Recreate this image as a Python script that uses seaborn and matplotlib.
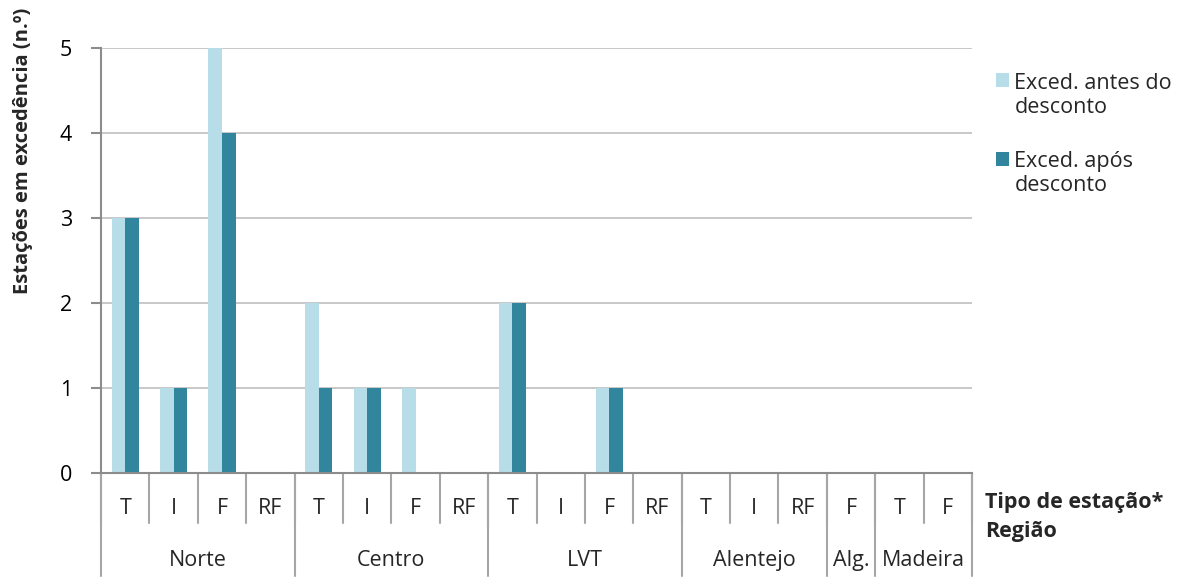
import matplotlib
matplotlib.use("Agg")
import matplotlib.pyplot as plt
import matplotlib.transforms as mtransforms
from matplotlib.patches import Patch, Rectangle
from matplotlib.legend_handler import HandlerPatch
import pandas as pd
import seaborn as sns

# Station types grouped by region
regions = ["Norte", "Centro", "LVT", "Alentejo", "Alg.", "Madeira"]
region_types = [
    ["T", "I", "F", "RF"],
    ["T", "I", "F", "RF"],
    ["T", "I", "F", "RF"],
    ["T", "I", "RF"],
    ["F"],
    ["T", "F"],
]
antes = [3, 1, 5, 0, 2, 1, 1, 0, 2, 0, 1, 0, 0, 0, 0, 0, 0, 0]
apos = [3, 1, 4, 0, 1, 1, 0, 0, 2, 0, 1, 0, 0, 0, 0, 0, 0, 0]
series_names = ["Exced. antes do\ndesconto", "Exced. após\ndesconto"]
colors = ["#B7DDE8", "#31859C"]

keys, type_labels = [], []
for reg, types in zip(regions, region_types):
    for t in types:
        keys.append(f"{reg}|{t}")
        type_labels.append(t)

df = pd.DataFrame({
    "key": keys * 2,
    "value": antes + apos,
    "serie": [series_names[0]] * len(keys) + [series_names[1]] * len(keys),
})

sns.set_theme(style="white")
plt.rcParams["font.family"] = ["Open Sans", "DejaVu Sans"]
FS = 15.5

fig = plt.figure(figsize=(11.8, 5.79), dpi=100)
W, H = 1180, 579
ax = fig.add_axes([101 / W, 1 - 473 / H, (972 - 101) / W, (473 - 48) / H])

sns.barplot(data=df, x="key", y="value", hue="serie", order=keys,
            hue_order=series_names, palette=colors, width=0.56, gap=0,
            saturation=1, errorbar=None, ax=ax, legend=False, linewidth=0)

n = len(keys)
ax.set_xlim(-0.5, n - 0.5)
ax.set_ylim(0, 5)
ax.set_yticks(range(6))
ax.set_yticklabels([str(i) for i in range(6)], fontsize=FS)
ax.yaxis.grid(True, color="#BFBFBF", linewidth=1.2)
ax.set_axisbelow(True)
for s in ["top", "right"]:
    ax.spines[s].set_visible(False)
for s in ["left", "bottom"]:
    ax.spines[s].set_color("#8C8C8C")
    ax.spines[s].set_linewidth(1.5)
ax.tick_params(axis="y", left=True, length=7, width=1.5, color="#8C8C8C",
               pad=14, labelcolor="black")
ax.set_xticks([])
ax.set_xlabel("")
ax.set_ylabel("")
fig.text(23 / W, 1 - 151 / H, "Estações em excedência (n.º)", fontsize=14.5,
         fontweight="bold", rotation=90, ha="center", va="center")

trans = mtransforms.blended_transform_factory(ax.transData, ax.transAxes)
line_kw = dict(color="#A6A6A6", linewidth=1.5, transform=trans, clip_on=False)

# Type-level separators and labels
for i in range(n + 1):
    ax.plot([i - 0.5, i - 0.5], [0, -0.118], **line_kw)
for i, t in enumerate(type_labels):
    ax.text(i, -0.084, t, transform=trans, ha="center", va="center",
            fontsize=FS)

# Region-level separators and labels
start = 0
bounds = [0]
for types in region_types:
    start += len(types)
    bounds.append(start)
for b in bounds:
    ax.plot([b - 0.5, b - 0.5], [0, -0.242], **line_kw)
for reg, a, b in zip(regions, bounds[:-1], bounds[1:]):
    ax.text((a + b - 1) / 2, -0.207, reg, transform=trans, ha="center",
            va="center", fontsize=FS)

fig.text(985 / W, 1 - 517 / H, "Tipo de estação*\nRegião", fontsize=FS,
         fontweight="bold", ha="left", va="center", linespacing=1.45)


def top_square(legend, orig_handle, xdescent, ydescent, width, height,
               fontsize):
    # square aligned with the first line of a two-line label
    return Rectangle((-xdescent, -ydescent + 0.72 * fontsize), width, height)


handles = [Patch(facecolor=c, edgecolor="none") for c in colors]
fig.legend(handles, series_names, loc="upper left",
           bbox_to_anchor=(987 / W, 1 - 64 / H), frameon=False, fontsize=FS,
           handlelength=0.62, handleheight=0.62, handletextpad=0.25,
           labelspacing=1.55, borderaxespad=0,
           handler_map={Patch: HandlerPatch(patch_func=top_square)})

fig.savefig("out.png", dpi=100)
